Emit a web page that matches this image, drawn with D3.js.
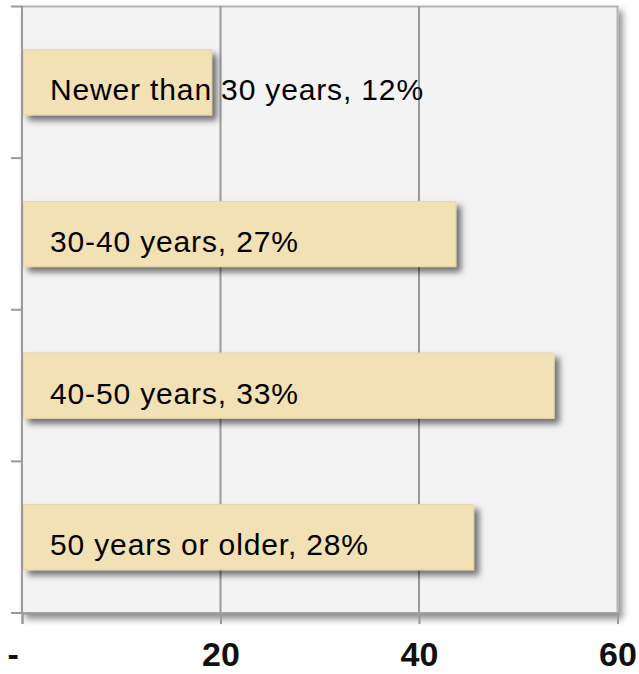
<!DOCTYPE html>
<html>
<head>
<meta charset="utf-8">
<script src="https://cdn.jsdelivr.net/npm/d3@7"></script>
<style>
  html, body { margin: 0; padding: 0; background: #ffffff; }
  svg { display: block; }
  .xlabel { font-family: "Liberation Sans", Arial, sans-serif; font-weight: bold; font-size: 34px; fill: #111; white-space: pre; }
  .barlabel { font-family: "Liberation Sans", Arial, sans-serif; font-size: 30px; letter-spacing: 0.85px; fill: #000; }
</style>
</head>
<body>
<svg id="chart" width="639" height="674"></svg>
<script>
// Building age groups and their counts
const categories = ["Newer than 30 years", "30-40 years", "40-50 years", "50 years or older"];
const values = [19.1, 43.7, 53.6, 45.5];
const xTicks = [0, 20, 40, 60];
const xTickLabels = ["-  ", "20", "40", "60"];

const total = d3.sum(values);
const rows = categories.map((c, i) => ({
  category: c,
  value: values[i],
  pct: Math.round(values[i] / total * 100)
}));

const plot = { left: 22, right: 617.5, top: 6.5, bottom: 613 };

const svg = d3.select("#chart");
const defs = svg.append("defs");

defs.append("filter").attr("id", "areaShadow")
  .attr("x", "-5%").attr("y", "-5%").attr("width", "115%").attr("height", "115%")
  .append("feDropShadow")
  .attr("dx", 4).attr("dy", 5).attr("stdDeviation", 3.5)
  .attr("flood-color", "#000").attr("flood-opacity", 0.45);

defs.append("filter").attr("id", "barShadow")
  .attr("x", "-10%").attr("y", "-30%").attr("width", "130%").attr("height", "180%")
  .append("feDropShadow")
  .attr("dx", 5).attr("dy", 5).attr("stdDeviation", 3.2)
  .attr("flood-color", "#000").attr("flood-opacity", 0.55);

const x = d3.scaleLinear().domain([0, 60]).range([plot.left, plot.right]);
const y = d3.scaleBand().domain(categories).range([plot.top, plot.bottom]).paddingInner(0.57).paddingOuter(0.285);

// Plot area background with shadow
svg.append("rect")
  .attr("x", plot.left).attr("y", plot.top)
  .attr("width", plot.right - plot.left).attr("height", plot.bottom - plot.top)
  .attr("fill", "#f3f3f3")
  .attr("stroke", "#b4b4b4").attr("stroke-width", 2)
  .attr("filter", "url(#areaShadow)");

// Vertical gridlines
svg.append("g").selectAll("line")
  .data(xTicks.filter(t => t > 0 && t < 60))
  .join("line")
  .attr("x1", d => x(d)).attr("x2", d => x(d))
  .attr("y1", plot.top).attr("y2", plot.bottom)
  .attr("stroke", "#9a9a9a").attr("stroke-width", 2);

// Bars
svg.append("g").selectAll("rect")
  .data(rows)
  .join("rect")
  .attr("x", x(0) + 1.5)
  .attr("y", d => y(d.category))
  .attr("width", d => x(d.value) - x(0) - 1.5)
  .attr("height", y.bandwidth())
  .attr("fill", "#f2e1b4")
  .attr("stroke", "#e8d6a6").attr("stroke-width", 1)
  .attr("filter", "url(#barShadow)");

// Category axis (ticks at band boundaries)
const yEdges = categories.map(c => y(c) - y.step() * y.paddingInner() / 2).concat([plot.bottom]);
const yAxisG = svg.append("g");
yAxisG.append("line")
  .attr("x1", plot.left).attr("x2", plot.left)
  .attr("y1", plot.top).attr("y2", plot.bottom)
  .attr("stroke", "#9a9a9a").attr("stroke-width", 2);
yAxisG.selectAll("line.tick")
  .data(yEdges)
  .join("line").attr("class", "tick")
  .attr("x1", plot.left - 11).attr("x2", plot.left)
  .attr("y1", d => d).attr("y2", d => d)
  .attr("stroke", "#9a9a9a").attr("stroke-width", 2);

// Value axis
const xAxis = d3.axisBottom(x)
  .tickValues(xTicks)
  .tickSize(11)
  .tickFormat((d, i) => xTickLabels[i]);
const xAxisG = svg.append("g")
  .attr("transform", `translate(0,${plot.bottom})`)
  .call(xAxis);
xAxisG.select(".domain").attr("stroke", "#9a9a9a").attr("stroke-width", 2);
xAxisG.selectAll(".tick line").attr("stroke", "#9a9a9a").attr("stroke-width", 2);
xAxisG.selectAll(".tick text").attr("class", "xlabel").attr("dy", null).attr("y", 53);

// Data labels
svg.append("g").selectAll("text")
  .data(rows)
  .join("text")
  .attr("class", "barlabel")
  .attr("x", x(0) + 28)
  .attr("y", d => y(d.category) + y.bandwidth() / 2 + 18)
  .text(d => `${d.category}, ${d.pct}%`);
</script>
</body>
</html>
